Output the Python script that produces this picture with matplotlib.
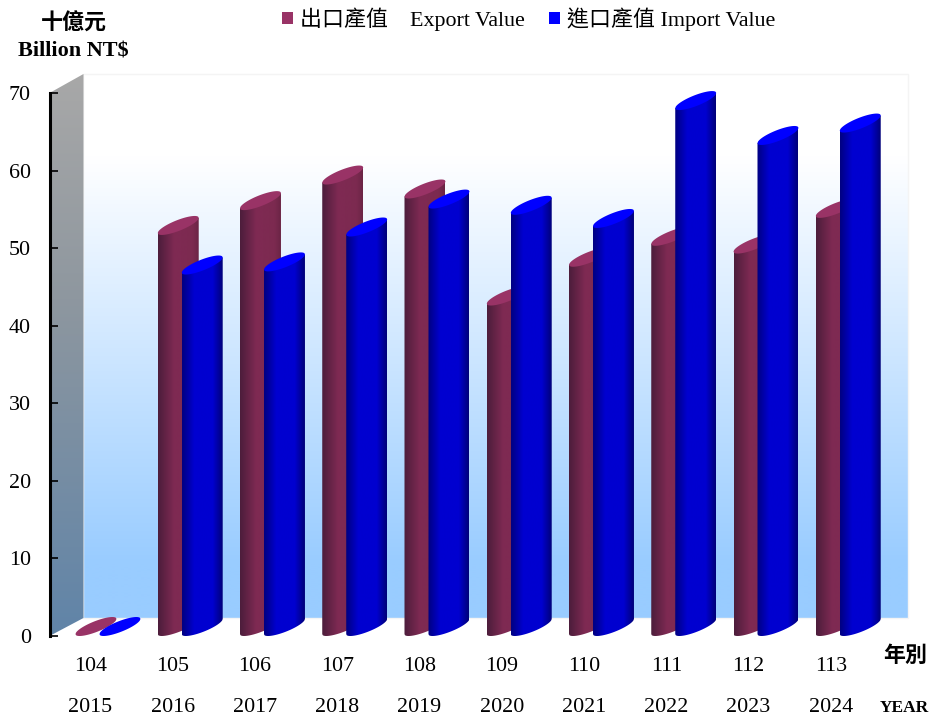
import numpy as np
import matplotlib
matplotlib.use('Agg')
import matplotlib.pyplot as plt
from matplotlib.colors import LinearSegmentedColormap
from matplotlib.patches import Patch, Polygon

plt.rcParams['font.family'] = ['Liberation Serif', 'Noto Sans CJK TC']

# Chart data
roc_years = ['104', '105', '106', '107', '108', '109', '110', '111', '112', '113']
years = ['2015', '2016', '2017', '2018', '2019', '2020', '2021', '2022', '2023', '2024']
export_value = [0, 51.7, 54.9, 58.2, 56.4, 42.6, 47.6, 50.3, 49.3, 53.9]
import_value = [0, 46.6, 47.0, 51.5, 55.1, 54.3, 52.6, 67.8, 63.3, 64.9]
y_ticks = [0, 10, 20, 30, 40, 50, 60, 70]

FIG_W, FIG_H = 931, 718
FONT_SIZE = 15.8

# One category is 82.3 px wide, one value unit is 7.757 px high
PX_X = 1 / 82.3
PX_Y = 70 / 543.
BAR_W = 41 * PX_X
BAR_RISE = 19 * PX_Y
BAR_TILT = 0.8
IMPORT_SHIFT = 24 * PX_X
DEPTH_X = 34 * PX_X
DEPTH_Y = 18 * PX_Y

export_cmap = LinearSegmentedColormap.from_list(
    'export', [(0, '#4c1d3b'), (0.4, '#7f2a53'), (0.85, '#7c2a50'), (1, '#6a2445')])
import_cmap = LinearSegmentedColormap.from_list(
    'import', [(0, '#000080'), (0.3, '#0000d0'), (0.75, '#0000d0'), (1, '#000078')])
back_cmap = LinearSegmentedColormap.from_list(
    'back', [(0, '#ffffff'), (0.15, '#ffffff'), (0.9, '#99ccff'), (1, '#99ccff')])
side_cmap = LinearSegmentedColormap.from_list(
    'side', [(0, '#a8a8a8'), (0.4, '#8e979f'), (1, '#6084a8')])


def gradient(ax, extent, cmap, clip, vertical=False, zorder=1):
    """
    Fill a polygon with a linear gradient
    """
    values = np.linspace(0, 1, 256)
    values = values[:, None] if vertical else values[None, :]
    image = ax.imshow(values, cmap=cmap, extent=extent, aspect='auto', interpolation='bilinear',
                      zorder=zorder)
    patch = Polygon(clip, closed=True, transform=ax.transData, facecolor='none', edgecolor='none')
    image.set_clip_path(patch)
    # Images get cut to the axes box unless the clip box is wider
    image.set_clip_box(ax.figure.bbox)
    return image


def cylinder(ax, x, value, cmap, top_color, zorder):
    """
    Draw one leaning cylinder, front left corner at (x, 0)
    """
    c = np.linspace(-1, 1, 80)
    half_w = BAR_W / 2.
    half_r = BAR_RISE / 2.
    arc = np.sqrt(1 - BAR_TILT ** 2) * np.sqrt(1 - c ** 2)
    xs = x + half_w + c * half_w
    lower = half_r + half_r * (BAR_TILT * c - arc)
    upper = half_r + half_r * (BAR_TILT * c + arc)

    if value > 0:
        body = list(zip(xs, lower)) + [(x + BAR_W, value + upper[-1]), (x, value + upper[0])]
        gradient(ax, (x, x + BAR_W, -1, value + BAR_RISE + 1), cmap, body, zorder=zorder)
    top = list(zip(xs, value + lower)) + list(zip(xs[::-1], value + upper[::-1]))
    ax.add_patch(Polygon(top, closed=True, facecolor=top_color, edgecolor='none', zorder=zorder + 0.1,
                         clip_on=False))


fig = plt.figure(figsize=(FIG_W / 100., FIG_H / 100.), dpi=100)
ax = fig.add_axes([49.5 / FIG_W, (FIG_H - 636.) / FIG_H, (FIG_W - 49.5) / FIG_W, 543. / FIG_H])
ax.patch.set_visible(False)

# Back wall and side wall
left = -26 * PX_X
wall_x0 = left + DEPTH_X
wall_x1 = (908 - 75) * PX_X
wall_top = 70 + 19 * PX_Y
back = [(wall_x0, DEPTH_Y), (wall_x1, DEPTH_Y), (wall_x1, wall_top), (wall_x0, wall_top)]
gradient(ax, (wall_x0, wall_x1, DEPTH_Y, wall_top), back_cmap, back, vertical=True)
ax.add_patch(Polygon(back, closed=True, facecolor='none', edgecolor='#f4f4f4', lw=1, zorder=1,
                     clip_on=False))
side = [(left, 0), (wall_x0, DEPTH_Y), (wall_x0, wall_top), (left, 70)]
gradient(ax, (left, wall_x0, 0, wall_top), side_cmap, side, vertical=True)

# Cylinders
for i in range(len(years)):
    cylinder(ax, i, export_value[i], export_cmap, '#993366', 2 + 2 * i)
    cylinder(ax, i + IMPORT_SHIFT, import_value[i], import_cmap, '#0000ff', 3 + 2 * i)

# Axes
ax.set_xlim(left, (FIG_W - 75) * PX_X)
ax.set_ylim(0, 70)
for name in ['top', 'right', 'bottom']:
    ax.spines[name].set_visible(False)
ax.spines['left'].set_linewidth(2.2)
ax.spines['left'].set_zorder(50)
ax.set_yticks(y_ticks)
ax.tick_params(axis='y', direction='in', length=5.5, width=1.2, pad=13.5, labelsize=FONT_SIZE)
label_x = np.arange(len(years)) + 15 * PX_X
ax.set_xticks(label_x)
ax.set_xticklabels(roc_years)
ax.tick_params(axis='x', length=0, pad=15, labelsize=FONT_SIZE)
for x, year in zip(label_x, years):
    ax.text(x, -71 * PX_Y, year, ha='center', va='center', fontsize=FONT_SIZE)

# Unit and axis captions
fig.text(74 / FIG_W, 1 - 24. / FIG_H, '十億元', ha='center', va='center', fontsize=FONT_SIZE,
         fontweight='bold')
fig.text(73 / FIG_W, 1 - 51. / FIG_H, 'Billion NT$', ha='center', va='center', fontsize=16,
         fontweight='bold')
fig.text(905 / FIG_W, 1 - 657. / FIG_H, '年別', ha='center', va='center', fontsize=FONT_SIZE,
         fontweight='bold')
fig.text(929 / FIG_W, 1 - 708. / FIG_H, 'YEAR', ha='right', va='center', fontsize=12.5,
         fontweight='bold')

# Legend
handles = [Patch(facecolor='#993366', edgecolor='none'), Patch(facecolor='#0000ff', edgecolor='none')]
ax.legend(handles, ['出口產值    Export Value', '進口產值 Import Value'], ncol=2, frameon=False,
          fontsize=FONT_SIZE, loc='upper left', bbox_to_anchor=(282. / FIG_W, 1 - 7. / FIG_H),
          bbox_transform=fig.transFigure, borderpad=0, borderaxespad=0, handlelength=0.5,
          handleheight=0.5, handletextpad=0.3, columnspacing=1.13)

plt.savefig('out.png', dpi=100)
